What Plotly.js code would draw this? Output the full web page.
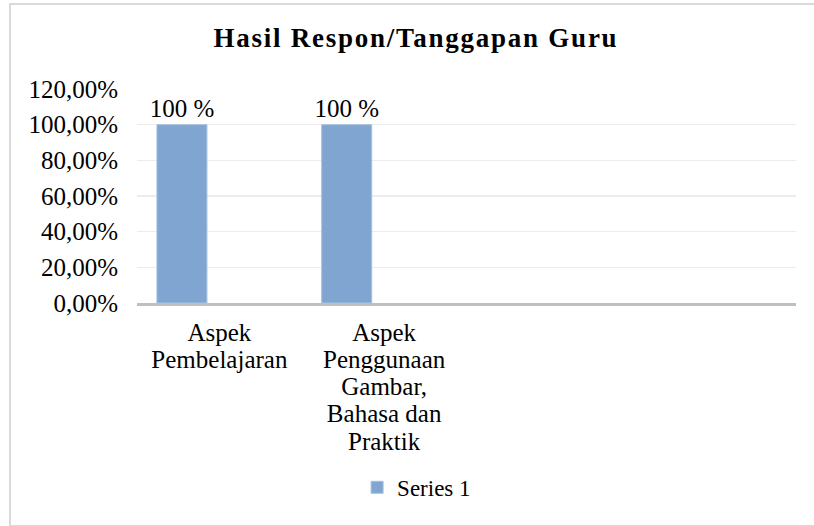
<!DOCTYPE html>
<html>
<head>
<meta charset="utf-8">
<script src="https://cdn.plot.ly/plotly-3.0.1.min.js"></script>
<style>
  html, body { margin: 0; padding: 0; background: #ffffff; }
  #wrap { position: relative; width: 814px; height: 526px; overflow: hidden; }
  #chart { position: absolute; left: 0; top: 0; width: 814px; height: 526px; }
  #frame { position: absolute; left: 9px; top: 3px; width: 840px; height: 520px;
           border: 2px solid #d9d9d9; pointer-events: none; box-sizing: content-box; }
  .gtitle { letter-spacing: 1.75px; }
</style>
</head>
<body>
<div id="wrap">
  <div id="chart"></div>
  <div id="frame"></div>
</div>
<script>
const categories = ["Aspek<br>Pembelajaran", "Aspek<br>Penggunaan<br>Gambar,<br>Bahasa dan<br>Praktik", "", ""];
const positions = [0, 1, 2, 3];
const series1 = [100, 100, null, null];
const seriesName = "Series 1";
const yTickValues = [0, 20, 40, 60, 80, 100, 120];
const yTickLabels = yTickValues.map(function (v) { return v.toFixed(2).replace(".", ",") + "%"; });
const chartTitle = "Hasil Respon/Tanggapan Guru";

const serif = "'Liberation Serif', 'Times New Roman', serif";

const trace = {
  type: "bar",
  x: positions,
  y: series1,
  name: seriesName,
  width: 0.3035,
  offset: -0.379,
  marker: { color: "#80a5d1", line: { color: "#a7c0df", width: 1 } },
  texttemplate: "%{y:.0f} %",
  textposition: "outside",
  constraintext: "none",
  cliponaxis: false,
  textfont: { family: serif, size: 25, color: "#000000" },
  showlegend: true
};

const layout = {
  width: 814,
  height: 526,
  separators: ",.",
  paper_bgcolor: "rgba(0,0,0,0)",
  plot_bgcolor: "rgba(0,0,0,0)",
  margin: { l: 137, r: 18, t: 89, b: 223, pad: 0 },
  font: { family: serif, size: 25, color: "#000000" },
  title: {
    text: "<b>" + chartTitle + "</b>",
    font: { family: serif, size: 27, color: "#000000" },
    x: 0.511, xanchor: "center", xref: "container",
    y: 1 - 38 / 526, yanchor: "middle", yref: "container"
  },
  xaxis: {
    range: [-0.5, 3.5],
    tickmode: "array",
    tickvals: positions,
    ticktext: categories,
    showgrid: false,
    zeroline: false,
    showline: true,
    linecolor: "#bfbfbf",
    linewidth: 2.5,
    ticks: "",
    ticklabelstandoff: 5,
    tickfont: { family: serif, size: 25, color: "#000000" },
    fixedrange: true
  },
  yaxis: {
    range: [0, 120],
    tickmode: "array",
    tickvals: yTickValues,
    ticktext: yTickLabels,
    showgrid: true,
    gridcolor: "#ececec",
    gridwidth: 1.5,
    zeroline: false,
    showline: false,
    ticks: "",
    ticklabelstandoff: 18,
    tickfont: { family: serif, size: 25, color: "#000000" },
    fixedrange: true
  },
  showlegend: true,
  legend: {
    orientation: "h",
    x: 0.334, xanchor: "left",
    y: -0.761, yanchor: "top",
    font: { family: serif, size: 23, color: "#000000" },
    bgcolor: "rgba(0,0,0,0)"
  }
};

Plotly.newPlot("chart", [trace], layout, { staticPlot: true, displayModeBar: false }).then(function () {
  document.querySelectorAll("#chart .xtick text").forEach(function (txt) {
    const lines = txt.querySelectorAll("tspan.line");
    lines.forEach(function (t, i) {
      t.setAttribute("dy", (i * 1.09).toFixed(2) + "em");
    });
  });
});
</script>
</body>
</html>
